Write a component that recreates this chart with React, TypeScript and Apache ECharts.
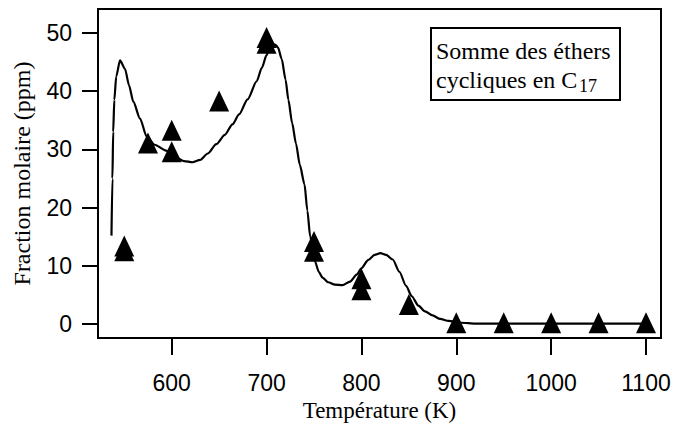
import React, { useEffect, useRef } from "react";
import * as echarts from "echarts";

// Model curve (line)
const curveT = [536.5, 537.5, 538.3, 539.5, 541.5, 545.5, 550.8, 555, 559.5, 566.6, 573.6, 582, 594, 605, 613, 622, 630, 638, 647, 656, 664, 671, 680, 689.6, 695, 700, 703, 706, 709, 712, 716, 720, 723, 727, 731, 735, 740, 743, 746, 751, 755, 759, 765, 772, 780, 788, 795, 800, 807, 814, 820, 826, 833, 840, 847, 853, 860, 867, 875, 883, 892, 905, 920, 950, 1000, 1050, 1100];
const curveV = [15.2, 25, 33, 38.5, 42.5, 45.3, 43.8, 41, 38.2, 35.3, 32.2, 30.8, 29.8, 28.6, 28.0, 27.8, 28.2, 29.3, 30.9, 32.5, 34.3, 36.0, 38.6, 41.7, 44, 46.2, 47.3, 48, 48, 47.5, 45.5, 42, 38.5, 34.5, 31, 27.4, 24, 19.5, 15, 10.8, 9, 8, 7.2, 6.8, 6.7, 7.3, 8.5, 9.6, 11, 11.9, 12.2, 11.9, 11.1, 9, 6.6, 4.8, 3.2, 2.2, 1.5, 0.9, 0.56, 0.25, 0.1, 0.1, 0.1, 0.1, 0.1];

// Measured points (triangles)
const pointT = [550, 550, 575, 600, 600, 650, 700, 700, 750, 750, 800, 800, 850, 900, 950, 1000, 1050, 1100];
const pointV = [13.4, 12.6, 31.1, 33.3, 29.6, 38.3, 49.2, 48.2, 14.2, 12.5, 7.8, 5.9, 3.4, 0.25, 0.25, 0.25, 0.25, 0.25];

const xTicks = [600, 700, 800, 900, 1000, 1100];
const yTicks = [0, 10, 20, 30, 40, 50];

const xTitle = "Température (K)";
const yTitle = "Fraction molaire (ppm)";
const legendLine1 = "Somme des éthers";
const legendLine2 = "cycliques en C";
const legendSub = "17";

const SERIF = "'Liberation Serif', 'Times New Roman', serif";
const SANS = "'Liberation Sans', Arial, sans-serif";

export default function App() {
  const ref = useRef<HTMLDivElement>(null);
  useEffect(() => {
    if (!ref.current) return;
    const chart = echarts.init(ref.current, null, { renderer: "svg" });
    const axisCommon = {
      axisLine: { show: true, onZero: false, lineStyle: { color: "#000", width: 2 } },
      splitLine: { show: false },
    };
    chart.setOption({
      animation: false,
      backgroundColor: "#fff",
      grid: {
        left: 98,
        right: 13,
        top: 9,
        bottom: 84,
        show: true,
        borderColor: "#000",
        borderWidth: 2,
        backgroundColor: "transparent",
      },
      xAxis: {
        type: "value",
        min: 522.3,
        max: 1115.8,
        ...axisCommon,
        axisTick: { show: true, length: 17, customValues: xTicks, lineStyle: { color: "#000", width: 2 } },
        axisLabel: {
          customValues: xTicks,
          formatter: (v: number) => String(v),
          color: "#000",
          fontFamily: SANS,
          fontSize: 23,
          margin: 33,
        },
        name: xTitle,
        nameLocation: "middle",
        nameGap: 61,
        nameTextStyle: { color: "#000", fontFamily: SERIF, fontSize: 23 },
      },
      yAxis: {
        type: "value",
        min: -2.37,
        max: 54.1,
        ...axisCommon,
        axisTick: { show: true, length: 16, customValues: yTicks, lineStyle: { color: "#000", width: 2 } },
        axisLabel: {
          customValues: yTicks,
          formatter: (v: number) => String(v),
          color: "#000",
          fontFamily: SANS,
          fontSize: 23,
          margin: 26,
        },
        name: yTitle,
        nameLocation: "middle",
        nameGap: 64,
        nameTextStyle: { color: "#000", fontFamily: SERIF, fontSize: 24 },
      },
      series: [
        {
          type: "line",
          data: curveT.map((t, i) => [t, curveV[i]]),
          showSymbol: false,
          symbol: "none",
          smooth: 0.25,
          smoothMonotone: "x",
          lineStyle: { color: "#000", width: 2.2 },
          z: 2,
        },
        {
          type: "scatter",
          data: pointT.map((t, i) => [t, pointV[i]]),
          symbol: "triangle",
          symbolSize: [20, 21],
          itemStyle: { color: "#000", opacity: 1 },
          z: 3,
        },
      ],
      graphic: [
        {
          type: "rect",
          shape: { x: 431, y: 28, width: 189, height: 72 },
          style: { fill: "#fff", stroke: "#000", lineWidth: 2 },
          z: 10,
        },
        {
          type: "text",
          x: 436,
          y: 51,
          style: { text: legendLine1, fill: "#000", font: `24px ${SERIF}`, verticalAlign: "middle", align: "left" },
          z: 11,
        },
        {
          type: "text",
          x: 436,
          y: 80,
          style: { text: legendLine2, fill: "#000", font: `24px ${SERIF}`, verticalAlign: "middle", align: "left" },
          z: 11,
        },
        {
          type: "text",
          x: 579,
          y: 86,
          style: { text: legendSub, fill: "#000", font: `18px ${SERIF}`, verticalAlign: "middle", align: "left" },
          z: 11,
        },
      ],
    });
    return () => chart.dispose();
  }, []);
  return (
    <div
      ref={ref}
      style={{ position: "fixed", left: 0, top: 0, width: 674, height: 427, background: "#fff" }}
    />
  );
}
